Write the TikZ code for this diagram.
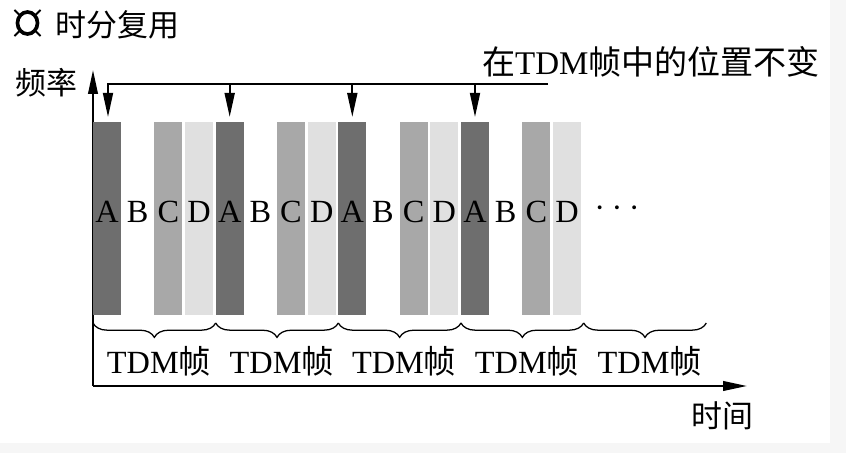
\documentclass[tikz,border=0pt]{standalone}
\usepackage{fontspec}
\setmainfont{Liberation Serif}
\newfontfamily\cjk{Noto Sans CJK SC}
\usepackage{xcolor}
\usetikzlibrary{arrows.meta,decorations.pathreplacing}
\definecolor{slotA}{HTML}{6E6E6E}
\definecolor{slotC}{HTML}{A8A8A8}
\definecolor{slotD}{HTML}{E0E0E0}
\definecolor{edgebg}{HTML}{F6F6F6}
\newcommand{\zh}[1]{{\cjk #1}}

\begin{document}
\begin{tikzpicture}[bar/.style={draw=none,minimum width=0.7cm,minimum height=4.825cm,inner sep=0pt,text depth=0.32cm,font=\fontsize{23}{23}\selectfont},axisline/.style={-{Triangle[length=0.6cm,width=0.24cm]},line width=1.5pt},keeparrow/.style={-{Triangle[length=0.6cm,width=0.25cm]},line width=1.3pt,shorten >=0.12cm},brc/.style={decorate,decoration={brace,mirror,amplitude=0.36cm},line width=0.9pt},frm/.style={font=\fontsize{23}{23}\selectfont,inner sep=0pt},cnlabel/.style={font=\fontsize{22}{22}\selectfont\cjk,inner sep=0pt}]
\fill[edgebg] (-2.325,-1.675) rectangle (18.825,9.65);
\fill[white] (-2.325,-1.425) rectangle (18.425,9.65);
\useasboundingbox (-2.325,-1.675) rectangle (18.825,9.65);
% heading and axes
\coordinate (sym) at (-1.6375,9.075);
\draw[line width=2.6pt] (sym) ellipse (0.25cm and 0.275cm);
\foreach \a in {45,135,225,315}
  \draw[line width=1.4pt] ([shift={(\a:0.3cm)}]sym) -- ([shift={(\a:0.46cm)}]sym);
\node[cnlabel] (title) at (0.6125,9.025) {时分复用};
\coordinate (o) at (0,0);
\coordinate (ytip) at (0,7.9);
\coordinate (xtip) at (16.35,0);
\draw[axisline] (o) -- (ytip);
\draw[axisline] (o) -- (xtip);
\node[cnlabel] (freq) at (-1.16,7.575) {频率};
\node[cnlabel] (time) at (15.725,-0.75) {时间};
% time slots
\node[bar,fill=slotA] (A1) at (0.35,4.1875) {A};
\node[bar] (B1) at (1.117,4.1875) {B};
\node[bar,fill=slotC] (C1) at (1.883,4.1875) {C};
\node[bar,fill=slotD] (D1) at (2.65,4.1875) {D};
\node[bar,fill=slotA] (A2) at (3.417,4.1875) {A};
\node[bar] (B2) at (4.183,4.1875) {B};
\node[bar,fill=slotC] (C2) at (4.95,4.1875) {C};
\node[bar,fill=slotD] (D2) at (5.717,4.1875) {D};
\node[bar,fill=slotA] (A3) at (6.483,4.1875) {A};
\node[bar] (B3) at (7.25,4.1875) {B};
\node[bar,fill=slotC] (C3) at (8.017,4.1875) {C};
\node[bar,fill=slotD] (D3) at (8.783,4.1875) {D};
\node[bar,fill=slotA] (A4) at (9.55,4.1875) {A};
\node[bar] (B4) at (10.317,4.1875) {B};
\node[bar,fill=slotC] (C4) at (11.083,4.1875) {C};
\node[bar,fill=slotD] (D4) at (11.85,4.1875) {D};
\node[bar] (more) at (13.1,4.1875) {·\hspace{0.16cm}·\hspace{0.16cm}·};
% same position in every frame
\node[inner sep=0pt,font=\fontsize{23.5}{23.5}\selectfont] (keep) at (13.95,8.1) {\zh{在}TDM\zh{帧中的位置不变}};
\coordinate (busL) at (0.375,7.55);
\coordinate (busR) at (11.375,7.55);
\draw[keeparrow] (busR) -- (busL) -- (busL |- A1.north);
\draw[keeparrow] (A2.north |- busL) -- (A2.north);
\draw[keeparrow] (A3.north |- busL) -- (A3.north);
\draw[keeparrow] (A4.north |- busL) -- (A4.north);
% frames
\coordinate (f0) at (0,1.575);
\coordinate (f1) at (3.067,1.575);
\coordinate (f2) at (6.133,1.575);
\coordinate (f3) at (9.2,1.575);
\coordinate (f4) at (12.267,1.575);
\coordinate (f5) at (15.333,1.575);
\draw[brc] (f0) -- (f1);
\draw[brc] (f1) -- (f2);
\draw[brc] (f2) -- (f3);
\draw[brc] (f3) -- (f4);
\draw[brc] (f4) -- (f5);
\node[frm] (t1) at (1.65,0.62) {TDM\zh{帧}};
\node[frm] (t2) at (4.72,0.62) {TDM\zh{帧}};
\node[frm] (t3) at (7.78,0.62) {TDM\zh{帧}};
\node[frm] (t4) at (10.85,0.62) {TDM\zh{帧}};
\node[frm] (t5) at (13.92,0.62) {TDM\zh{帧}};
\end{tikzpicture}
\end{document}
